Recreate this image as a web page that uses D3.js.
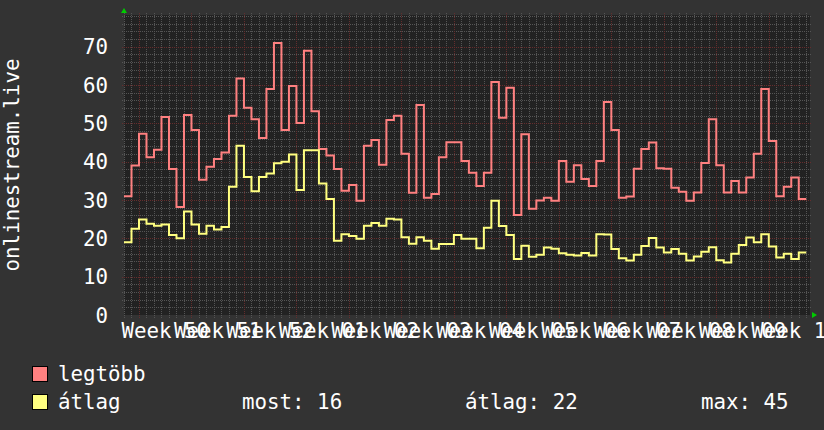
<!DOCTYPE html>
<html>
<head>
<meta charset="utf-8">
<script src="https://cdnjs.cloudflare.com/ajax/libs/d3/7.8.5/d3.min.js"></script>
<style>
  body { margin: 0; background: #333333; }
  text { font-family: "DejaVu Sans Mono", monospace; fill: #ffffff; }
</style>
</head>
<body>
<div id="chart-area"></div>
<script>
// daily values, first day is Sat 2023-12-09
var startDay = new Date(2023, 11, 9);
var endTime = new Date(2024, 2, 9, 12);

var maxValues = [
  31, 39, 47.3, 41.2, 43.1, 51.7, 38.1, 28.2, 52.2, 48.3, 35.3, 38.7, 40.7, 42.4,
  52, 61.7, 54.1, 51.1, 46.2, 59, 71, 48.3, 59.8, 50.1, 69, 53.2, 43.3, 41.6,
  38.1, 32.4, 33.9, 29.8, 44.2, 45.7, 39.2, 50.9, 52, 42.1, 31.9, 54.8, 30.6, 31.6,
  41.2, 45.1, 45.1, 40.2, 37.1, 33.7, 37.1, 60.8, 51.5, 59.3, 26.1, 47.2, 27.7, 29.9,
  30.6, 29.8, 40.2, 34.8, 39.1, 35.5, 33.7, 40.2, 55.6, 48.3, 30.6, 30.9, 38.2, 43.3,
  45, 38.3, 38.2, 33.2, 32.2, 29.8, 32, 39.7, 51.1, 39.1, 32, 35, 32, 35.9,
  42.1, 59, 45.4, 31, 33.5, 35.9, 30.3
];
var avgValues = [
  19, 22.5, 24.9, 23.8, 23.3, 23.6, 20.9, 20, 27, 23.6, 21.2, 23.3, 22.3, 23,
  33.5, 44.2, 36, 32.3, 36, 36.9, 39.6, 40, 41.9, 32.6, 43, 43, 34.3, 30.3,
  19.4, 21.1, 20.6, 19.9, 23.3, 24, 23.3, 25.1, 24.9, 20.3, 18.6, 20.3, 19.4, 17.3,
  18.5, 18.5, 20.9, 19.9, 19.9, 17.4, 22.8, 29.8, 23.2, 20.9, 14.6, 18.1, 15.2, 15.7,
  17.6, 17.3, 16.1, 15.7, 15.5, 16.2, 15.5, 21.1, 21, 17.2, 14.8, 14.2, 15.7, 18,
  20.1, 17.6, 16.3, 17.2, 16, 14.2, 15.3, 16.5, 17.7, 14.3, 13.7, 16, 18.3, 20.2,
  19, 21.1, 17.9, 15, 16, 14.6, 16.3
];

var yTicks = [0, 10, 20, 30, 40, 50, 60, 70];
var weekLabels = ["Week 50", "Week 51", "Week 52", "Week 01", "Week 02", "Week 03",
  "Week 04", "Week 05", "Week 06", "Week 07", "Week 08", "Week 09", "Week 10"];
var seriesNames = ["legtöbb", "átlag"];
var seriesColors = ["#ff8080", "#ffff80"];
var statNames = ["most", "átlag", "max"];
var statValues = [16, 22, 45];

var width = 824, height = 430;
var plot = { left: 124, right: 810, top: 15, bottom: 315 };

var svg = d3
  .select("#chart-area")
  .append("svg")
  .attr("width", width)
  .attr("height", height);

svg.append("rect")
  .attr("width", width)
  .attr("height", height)
  .attr("fill", "#333333");

svg.append("rect")
  .attr("x", plot.left)
  .attr("y", plot.top)
  .attr("width", plot.right - plot.left)
  .attr("height", plot.bottom - plot.top)
  .attr("fill", "#222222");

// Scales
var x = d3.scaleTime().domain([startDay, endTime]).range([plot.left, plot.right]);
var y = d3.scaleLinear().domain([0, 78.3]).range([plot.bottom, plot.top]);

function px(v) { return Math.round(v) + 0.5; }

// Grid
var grid = svg.append("g").attr("shape-rendering", "crispEdges");

var days = d3.timeDay.range(startDay, endTime);
var mondays = d3.timeMonday.range(startDay, endTime);
var minorY = d3.range(0, 79, 2);

grid.selectAll(".vminor")
  .data(days.filter(function(d) { return d.getDay() !== 1; }))
  .enter().append("line")
  .attr("x1", function(d) { return px(x(d)); })
  .attr("x2", function(d) { return px(x(d)); })
  .attr("y1", plot.top - 2)
  .attr("y2", plot.bottom + 3)
  .attr("stroke", "#555555")
  .attr("stroke-dasharray", "1,1");

grid.selectAll(".hminor")
  .data(minorY.filter(function(d) { return d % 10 !== 0; }))
  .enter().append("line")
  .attr("x1", plot.left - 2)
  .attr("x2", plot.right + 1)
  .attr("y1", function(d) { return px(y(d)); })
  .attr("y2", function(d) { return px(y(d)); })
  .attr("stroke", "#555555")
  .attr("stroke-dasharray", "1,1");

grid.selectAll(".vmajor")
  .data(mondays)
  .enter().append("line")
  .attr("x1", function(d) { return px(x(d)); })
  .attr("x2", function(d) { return px(x(d)); })
  .attr("y1", plot.top - 2)
  .attr("y2", plot.bottom + 3)
  .attr("stroke", "#652d2d")
  .attr("stroke-dasharray", "1,1");

grid.selectAll(".hmajor")
  .data(yTicks.slice(1))
  .enter().append("line")
  .attr("x1", plot.left - 2)
  .attr("x2", plot.right + 1)
  .attr("y1", function(d) { return px(y(d)); })
  .attr("y2", function(d) { return px(y(d)); })
  .attr("stroke", "#652d2d")
  .attr("stroke-dasharray", "1,1");

// Lines (step, one value per day)
var line = d3.line()
  .curve(d3.curveStepAfter)
  .x(function(d) { return x(d.date); })
  .y(function(d) { return y(d.value); });

function toPoints(values) {
  var pts = values.map(function(v, i) {
    return { date: d3.timeDay.offset(startDay, i), value: v };
  });
  pts.push({ date: d3.timeDay.offset(startDay, values.length), value: values[values.length - 1] });
  return pts;
}

[maxValues, avgValues].forEach(function(values, i) {
  svg.append("path")
    .attr("d", line(toPoints(values)))
    .attr("fill", "none")
    .attr("stroke", seriesColors[i])
    .attr("stroke-width", 2);
});

// Y tick labels
svg.selectAll(".ylabel")
  .data(yTicks)
  .enter().append("text")
  .attr("x", 108)
  .attr("y", function(d) { return y(d) + 7.5; })
  .attr("text-anchor", "end")
  .attr("font-size", "20.8px")
  .text(function(d) { return d; });

// X labels, centred mid week
svg.selectAll(".xlabel")
  .data(mondays)
  .enter().append("text")
  .attr("x", function(d) { return x(d3.timeHour.offset(d, 84)); })
  .attr("y", 338)
  .attr("text-anchor", "middle")
  .attr("font-size", "20.8px")
  .text(function(d, i) { return weekLabels[i]; });

// Vertical title
svg.append("text")
  .attr("transform", "translate(19,165) rotate(-90)")
  .attr("text-anchor", "middle")
  .attr("font-size", "20.8px")
  .text("onlinestream.live");

// Axis arrows
svg.append("path")
  .attr("d", "M" + (plot.left - 3) + ",13L" + (plot.left + 3) + ",13L" + plot.left + ",8Z")
  .attr("fill", "#00cc00");
svg.append("path")
  .attr("d", "M" + (plot.right + 2) + "," + (plot.bottom - 3) + "L" + (plot.right + 2) + "," + (plot.bottom + 3) + "L" + (plot.right + 7) + "," + plot.bottom + "Z")
  .attr("fill", "#00cc00");

// Legend
var legend = svg.append("g");
seriesNames.forEach(function(name, i) {
  var ly = 366 + i * 28;
  legend.append("rect")
    .attr("x", 32.5)
    .attr("y", ly + 0.5)
    .attr("width", 15)
    .attr("height", 15)
    .attr("fill", seriesColors[i])
    .attr("stroke", "#000");
  legend.append("text")
    .attr("x", 58)
    .attr("y", ly + 15)
    .attr("font-size", "20.8px")
    .text(name);
});

var statX = [242, 465, 701];
statNames.forEach(function(name, i) {
  legend.append("text")
    .attr("x", statX[i])
    .attr("y", 409)
    .attr("font-size", "20.8px")
    .text(name + ": " + statValues[i]);
});
</script>
</body>
</html>
